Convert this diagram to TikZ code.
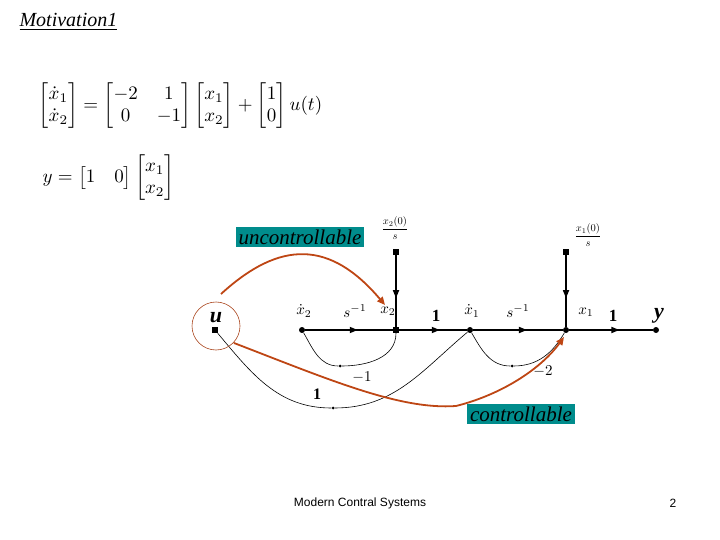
\documentclass[tikz,border=0pt]{standalone}
\usepackage{amsmath}
\usepackage{fontspec}
\setmainfont{Liberation Serif}
\usetikzlibrary{decorations.markings,arrows.meta}
\begin{document}
\begin{tikzpicture}[x=1pt,y=-1pt,
  dot/.style={circle,fill,inner sep=0pt,minimum size=6pt},
  sq/.style={rectangle,fill,inner sep=0pt,minimum size=6pt},
  sm/.style={circle,fill,inner sep=0pt,minimum size=3pt},
  br/.style={line width=1.6pt,postaction={decorate},decoration={markings,mark=at position 0.6 with {\arrow{Triangle[length=8pt,width=6pt]}}}},
  thin/.style={line width=0.6pt},
  tealbox/.style={fill={rgb,255:red,0;green,140;blue,140},font=\itshape\fontsize{21}{24}\selectfont,inner sep=3pt},
  org/.style={draw={rgb,255:red,190;green,70;blue,20},line width=1.8pt},
  lbl/.style={scale=1.5}]
\useasboundingbox (0,0) rectangle (720,540);
\node[anchor=west,font=\itshape\fontsize{20}{22}\selectfont] (title) at (16,22) {\underline{Motivation1}};
\node[anchor=west,scale=1.9] (eq1) at (32,106) {$\begin{bmatrix}\dot x_1\\ \dot x_2\end{bmatrix}=\begin{bmatrix}-2&1\\0&-1\end{bmatrix}\begin{bmatrix}x_1\\x_2\end{bmatrix}+\begin{bmatrix}1\\0\end{bmatrix}u(t)$};
\node[anchor=west,scale=1.9] (eq2) at (36,178) {$y=\begin{bmatrix}1&0\end{bmatrix}\begin{bmatrix}x_1\\x_2\end{bmatrix}$};
% nodes
\node[sq] (u) at (215,330) {};
\node[dot] (x2d) at (302,330) {};
\node[sq] (x2) at (396,330) {};
\node[dot] (x1d) at (470,330) {};
\node[dot] (x1) at (566,330) {};
\node[dot] (y) at (656,330) {};
\node[sq] (s2) at (396,252) {};
\node[sq] (s1) at (566,252) {};
\node[sm] (b2) at (340,366) {};
\node[sm] (b1) at (512,366) {};
\node[sm] (bu) at (333,408) {};
\draw[br] (x2d) -- (x2);
\draw[br] (x2) -- (x1d);
\draw[br] (x1d) -- (x1);
\draw[br] (x1) -- (y);
\draw[br] (s2) -- (x2);
\draw[br] (s1) -- (x1);
\draw[thin] (x2) to[out=-90,in=0] (b2);
\draw[thin] (b2) to[out=180,in=-60] (x2d);
\draw[thin] (x1) to[out=-120,in=0] (b1);
\draw[thin] (b1) to[out=180,in=-60] (x1d);
\draw[thin] (u) to[out=-50,in=180] (bu);
\draw[thin] (bu) to[out=0,in=-140] (x1d);
% labels
\node[font=\itshape\bfseries\fontsize{22}{24}\selectfont] (ul) at (216,318) {u};
\node[lbl] (l1) at (304,311) {$\dot x_2$};
\node[lbl] (l2) at (355,311) {$s^{-1}$};
\node[lbl] (l3) at (388,311) {$x_2$};
\node[font=\bfseries\fontsize{17}{19}\selectfont] (l4) at (436,316) {1};
\node[lbl] (l5) at (472,311) {$\dot x_1$};
\node[lbl] (l6) at (518,311) {$s^{-1}$};
\node[lbl] (l7) at (586,312) {$x_1$};
\node[font=\bfseries\fontsize{17}{19}\selectfont] (l8) at (613,316) {1};
\node[font=\bfseries\itshape\fontsize{22}{24}\selectfont] (l9) at (659,316) {y};
\node[lbl] (m1) at (362,377) {$-1$};
\node[lbl] (m2) at (543,371) {$-2$};
\node[font=\bfseries\fontsize{16}{18}\selectfont] (one) at (317,394) {1};
\node[scale=1.05] (i2) at (395,228) {$\dfrac{x_2(0)}{s}$};
\node[scale=1.05] (i1) at (588,235) {$\dfrac{x_1(0)}{s}$};
% highlights
\node[tealbox] (unc) at (300,237) {uncontrollable};
\node[tealbox] (con) at (521,414) {controllable};
\draw[draw={rgb,255:red,170;green,70;blue,30},line width=0.6pt] (216,326) circle (24);
\coordinate (a1) at (221,294);
\coordinate (a2) at (385,305);
\coordinate (c1) at (234,343);
\coordinate (c2) at (564,337);
\draw[org,-{Triangle[length=8pt,width=7pt]}] (a1) .. controls (280,240) and (330,240) .. (a2);
\draw[org] (c1) .. controls (330,380) and (400,410) .. (456,406);
\draw[org,-{Triangle[length=8pt,width=7pt]}] (456,406) .. controls (500,395) and (540,370) .. (c2);
\node[font=\fontsize{12}{14}\selectfont] (ft) at (360,503) {\fontspec{Liberation Sans}Modern Contral Systems};
\node[font=\fontsize{12}{14}\selectfont] (pg) at (673,503) {\fontspec{Liberation Sans}2};
\end{tikzpicture}
\end{document}
